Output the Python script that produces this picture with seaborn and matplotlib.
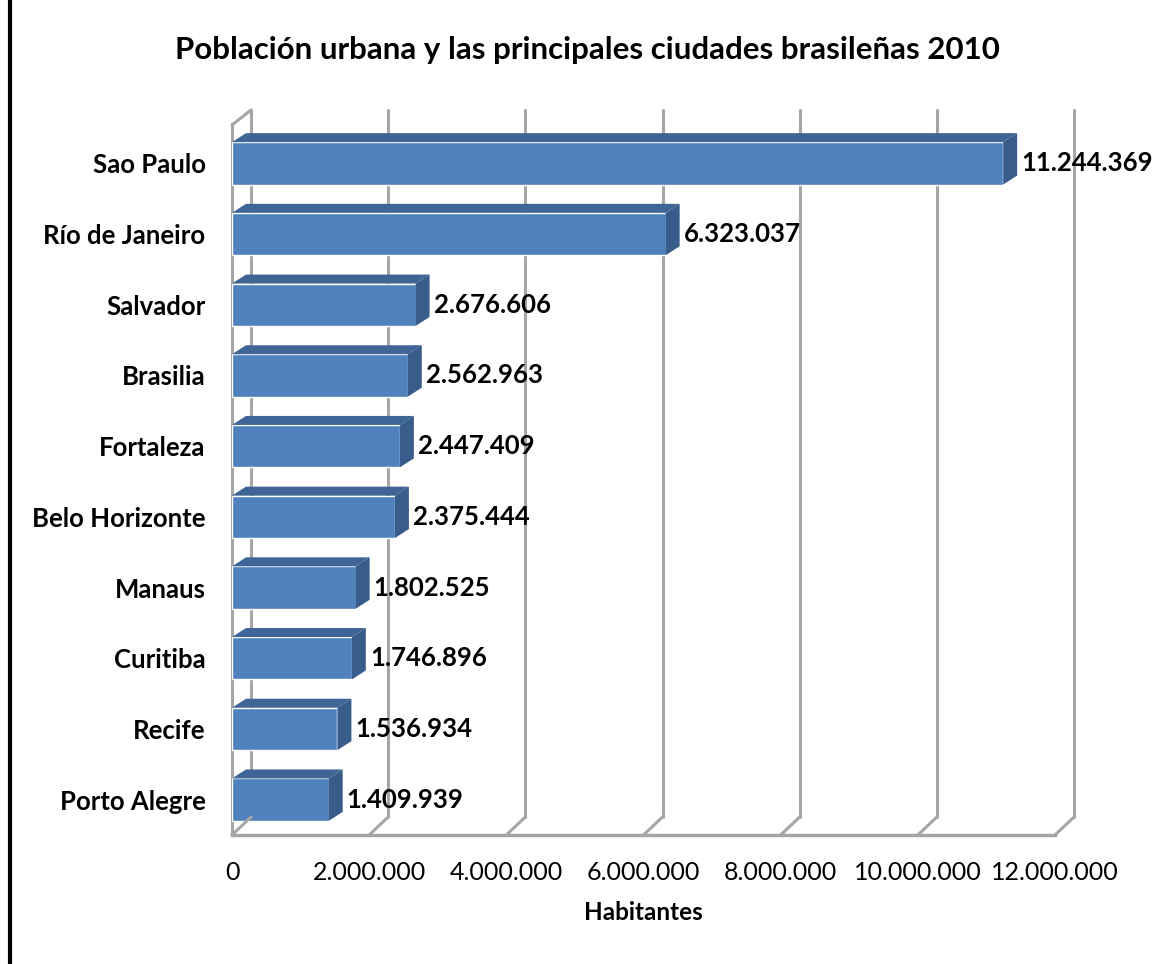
import matplotlib
matplotlib.use("Agg")
import matplotlib.pyplot as plt
import matplotlib.transforms as mtransforms
from matplotlib.patches import Polygon
from matplotlib.lines import Line2D
from matplotlib.ticker import FuncFormatter
import seaborn as sns
import pandas as pd

# Urban population of the main Brazilian cities, 2010
cities = ["Sao Paulo", "Río de Janeiro", "Salvador", "Brasilia", "Fortaleza",
          "Belo Horizonte", "Manaus", "Curitiba", "Recife", "Porto Alegre"]
population = [11244369, 6323037, 2676606, 2562963, 2447409,
              2375444, 1802525, 1746896, 1536934, 1409939]
x_ticks = [0, 2000000, 4000000, 6000000, 8000000, 10000000, 12000000]

title = "Población urbana y las principales ciudades brasileñas 2010"
x_label = "Habitantes"

sns.set_style("white")
plt.rcParams["font.family"] = ["Lato", "DejaVu Sans"]
for key in ["text.color", "axes.labelcolor", "xtick.color", "ytick.color"]:
    plt.rcParams[key] = "black"

W, H, DPI = 1175, 964, 100
fig = plt.figure(figsize=(W / DPI, H / DPI), dpi=DPI)

# front plane of the pseudo-3D chart box, in pixels
left_px, right_px, top_px, bottom_px = 232, 1055, 128, 835
ax = fig.add_axes([left_px / W, 1 - bottom_px / H,
                   (right_px - left_px) / W, (bottom_px - top_px) / H])

df = pd.DataFrame({"ciudad": cities, "habitantes": population})
front = "#4F81BD"
top_c = "#3E6595"
side_c = "#385D8A"
sns.barplot(data=df, x="habitantes", y="ciudad", orient="h", color=front,
            saturation=1, width=0.6, ax=ax, zorder=3)

xmax = x_ticks[-1]
ax.set_xlim(0, xmax)
ax.set_ylim(len(cities) - 0.5, -0.5)

# pixel scale of the data axes
px_per_x = (right_px - left_px) / xmax
px_per_y = (bottom_px - top_px) / len(cities)

# depth of each bar: shift right and up
bdx = 14 / px_per_x
bdy = 9 / px_per_y
half = 0.3
for i, v in enumerate(population):
    y0, y1 = i - half, i + half
    ax.add_patch(Polygon([(0, y0), (v, y0), (v + bdx, y0 - bdy), (bdx, y0 - bdy)],
                         closed=True, facecolor=top_c, edgecolor="none", zorder=3))
    ax.add_patch(Polygon([(v, y0), (v + bdx, y0 - bdy), (v + bdx, y1 - bdy), (v, y1)],
                         closed=True, facecolor=side_c, edgecolor="none", zorder=3))

# back-wall gridlines and floor diagonals
gdx, gdy = 19, 18
back = ax.transData + mtransforms.ScaledTranslation(gdx / DPI, gdy / DPI, fig.dpi_scale_trans)
grid_c = "#A6A6A6"
ylo, yhi = len(cities) - 0.5, -0.5
for t in x_ticks:
    ax.add_line(Line2D([t, t], [ylo, yhi], transform=back, color=grid_c, lw=2.2,
                       zorder=1, clip_on=False))
    # floor diagonal from back wall down to the front edge
    p_front = ax.transData.transform((t, ylo))
    p_back = back.transform((t, ylo))
    fig.add_artist(Line2D([p_front[0] / W, p_back[0] / W], [p_front[1] / H, p_back[1] / H],
                          color=grid_c, lw=2.2, zorder=1))

# left wall: front edge and its top corner
p_front = ax.transData.transform((0, yhi))
p_back = back.transform((0, yhi))
fig.add_artist(Line2D([p_front[0] / W, p_back[0] / W], [(p_front[1] + 3) / H, p_back[1] / H],
                      color=grid_c, lw=2.2, zorder=1))

for s in ["top", "right"]:
    ax.spines[s].set_visible(False)
ax.spines["bottom"].set_color(grid_c)
ax.spines["bottom"].set_linewidth(2.5)
ax.spines["left"].set_color(grid_c)
ax.spines["left"].set_linewidth(2.2)
ax.spines["left"].set_bounds(ylo, yhi - 0.05)
ax.patch.set_alpha(0)

def es_fmt(v, pos=None):
    return f"{int(round(v)):,}".replace(",", ".")

ax.set_xticks(x_ticks)
ax.xaxis.set_major_formatter(FuncFormatter(es_fmt))
ax.tick_params(axis="x", length=0, pad=19, labelsize=18)
ax.tick_params(axis="y", length=0, pad=19, labelsize=18.5)
for lab in ax.get_yticklabels():
    lab.set_fontweight("bold")
ax.set_ylabel("")
ax.set_xlabel(x_label, fontsize=17.5, fontweight="bold", labelpad=12)

ax.bar_label(ax.containers[0], labels=[es_fmt(v) for v in population],
             padding=13, fontsize=18.5, fontweight="bold", zorder=5)

fig.text(0.5, 1 - 50 / H, title, ha="center", va="center",
         fontsize=22.5, fontweight="bold")

# black rule on the left edge
fig.add_artist(Line2D([10 / W, 10 / W], [0, 1], color="black", lw=3))

fig.savefig("out.png", dpi=DPI)
